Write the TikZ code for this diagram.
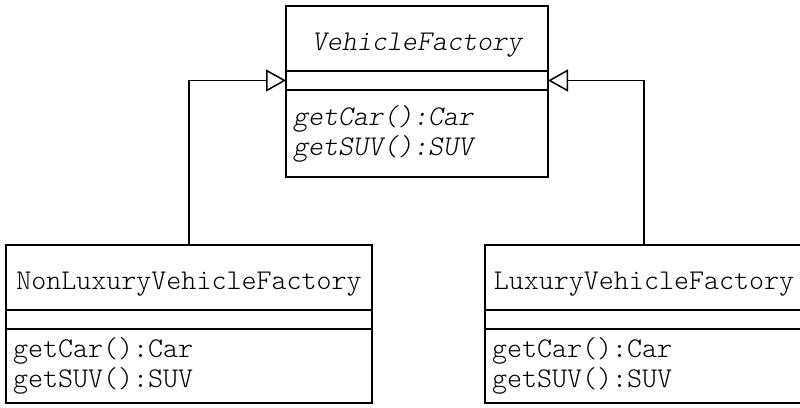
\documentclass[tikz,border=0pt]{standalone}
\usepackage{fontspec}
\setmonofont{Latin Modern Mono Light}
\usetikzlibrary{arrows.meta,positioning}

\tikzset{
  umlpart/.style={draw, line width=1.5pt, inner sep=0pt, outer sep=0pt, font=\ttfamily\fontsize{28.6}{30}\selectfont},
  classname/.style={umlpart, text height=44pt, text depth=21pt},
  classattr/.style={umlpart, minimum height=19pt},
  classops/.style={umlpart, align=left, inner xsep=7pt},
  inherit/.style={line width=1.5pt, -{Triangle[open, length=20pt, width=22pt]}},
}

\begin{document}
\begin{tikzpicture}
  \useasboundingbox (0,0) rectangle (800pt,-407pt);

  % abstract factory
  \node[classname, minimum width=262pt, anchor=north west] (vfname) at (286pt,-6pt) {\itshape VehicleFactory};
  \node[classattr, minimum width=262pt, below=0pt of vfname] (vfattr) {};
  \node[classops, text width=248pt, minimum height=87pt, below=0pt of vfattr] (vfops) {\itshape getCar():Car\\ \itshape getSUV():SUV};

  % concrete factories
  \node[classname, minimum width=366pt, anchor=north west] (nlname) at (6pt,-245pt) {NonLuxuryVehicleFactory};
  \node[classattr, minimum width=366pt, below=0pt of nlname] (nlattr) {};
  \node[classops, text width=352pt, minimum height=74pt, below=0pt of nlattr] (nlops) {getCar():Car\\ getSUV():SUV};

  \node[classname, minimum width=318pt, anchor=north west] (lxname) at (485pt,-245pt) {LuxuryVehicleFactory};
  \node[classattr, minimum width=318pt, below=0pt of lxname] (lxattr) {};
  \node[classops, text width=304pt, minimum height=74pt, below=0pt of lxattr] (lxops) {getCar():Car\\ getSUV():SUV};

  % generalization
  \draw[inherit] (nlname.north) |- (vfattr.west);
  \draw[inherit] (lxname.north) |- (vfattr.east);
\end{tikzpicture}
\end{document}
